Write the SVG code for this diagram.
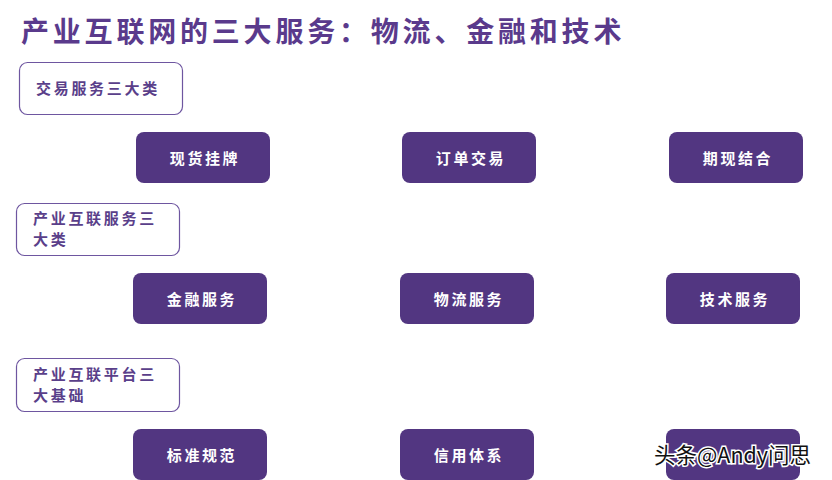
<svg xmlns="http://www.w3.org/2000/svg" width="832" height="480" viewBox="0 0 832 480">
<style>
.title{font-family:"Noto Sans CJK SC",sans-serif;font-weight:bold;font-size:28px;fill:#5a3a8c;letter-spacing:3.8px}
.lbl rect{fill:#fff;stroke:#6e56a0;stroke-width:1.2}
.lbl text{font-family:"Noto Sans CJK SC",sans-serif;font-weight:bold;font-size:15px;fill:#5a3f8a;letter-spacing:2.7px}
.node rect{fill:#523681}
.node text{font-family:"Noto Sans CJK SC",sans-serif;font-weight:bold;font-size:15px;fill:#fff;letter-spacing:2.6px;text-anchor:middle}
.wm{font-family:"Noto Sans CJK SC",sans-serif;font-size:21.5px;fill:#111;stroke:#fff;stroke-width:3px;paint-order:stroke}
</style>
<rect width="832" height="480" fill="#fff"/>
<text class="title" x="21" y="42">产业互联网的三大服务：物流、金融和技术</text>

<g id="label1" class="lbl"><rect x="19.5" y="62.5" width="163" height="52" rx="8"/><text x="36" y="94">交易服务三大类</text></g>
<g id="label2" class="lbl"><rect x="16.5" y="203.5" width="163" height="52" rx="8"/><text x="33" y="224">产业互联服务三</text><text x="33" y="245">大类</text></g>
<g id="label3" class="lbl"><rect x="16.5" y="358.5" width="163" height="53" rx="8"/><text x="33" y="380">产业互联平台三</text><text x="33" y="401">大基础</text></g>

<g id="n1" class="node"><rect x="136" y="132" width="134" height="51" rx="8"/><text x="205" y="164">现货挂牌</text></g>
<g id="n2" class="node"><rect x="402" y="132" width="134" height="51" rx="8"/><text x="471" y="164">订单交易</text></g>
<g id="n3" class="node"><rect x="669" y="132" width="134" height="51" rx="8"/><text x="738" y="164">期现结合</text></g>

<g id="n4" class="node"><rect x="133" y="273" width="134" height="51" rx="8"/><text x="202" y="305">金融服务</text></g>
<g id="n5" class="node"><rect x="400" y="273" width="134" height="51" rx="8"/><text x="469" y="305">物流服务</text></g>
<g id="n6" class="node"><rect x="666" y="273" width="134" height="51" rx="8"/><text x="735" y="305">技术服务</text></g>

<g id="n7" class="node"><rect x="133" y="429" width="134" height="51" rx="8"/><text x="202" y="461">标准规范</text></g>
<g id="n8" class="node"><rect x="400" y="429" width="134" height="51" rx="8"/><text x="469" y="461">信用体系</text></g>
<g id="n9" class="node"><rect x="666" y="429" width="134" height="51" rx="8"/></g>

<g id="connectors"/>
<text class="wm" x="654" y="463">头条@Andy问思</text>
</svg>
